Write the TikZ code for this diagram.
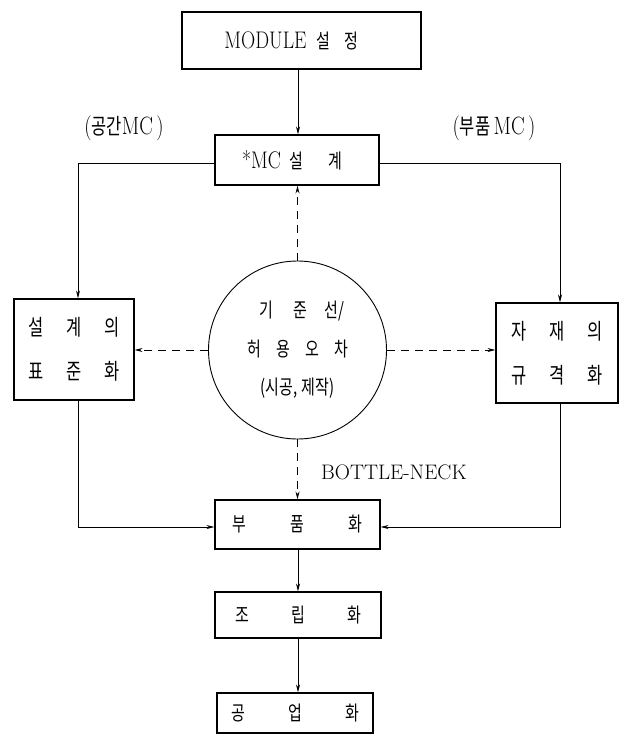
\documentclass[tikz,border=0pt]{standalone}
\usepackage{fontspec}
\usepackage{graphicx}
\setmainfont{Latin Modern Roman}
\newfontfamily\kr{Noto Sans CJK KR}
\usetikzlibrary{arrows.meta}
\newcommand{\LT}[1]{\scalebox{0.82}[1]{#1}}
\newcommand{\KT}[1]{\scalebox{0.75}[1]{\kr #1}}
\newcommand{\cell}[2]{\makebox[#1]{\KT{#2}}}
\tikzset{
  box/.style={draw, line width=1.1pt, inner sep=0pt, anchor=center},
  conn/.style={line width=0.8pt, -{Stealth[length=8pt,width=4pt]}},
  dconn/.style={line width=0.8pt, dash pattern=on 8pt off 6pt, -{Stealth[length=8pt,width=4pt]}},
  txt/.style={inner sep=0pt, anchor=center},
}
\begin{document}
\begin{tikzpicture}[x=1pt,y=-1pt]
\useasboundingbox (0,0) rectangle (621,736);
\node[box, minimum width=239pt, minimum height=57pt, font=\fontsize{20}{24}\selectfont] (mod) at (301.5,40.5)
  {\hspace{-16pt}\LT{\fontsize{24}{28}\selectfont MODULE}\hspace{6pt}\cell{22pt}{설}\hspace{6pt}\cell{22pt}{정}};
\node[box, minimum width=164pt, minimum height=50pt, font=\fontsize{20}{24}\selectfont] (mc) at (297,160)
  {\hspace{-6pt}\LT{\fontsize{24}{28}\selectfont *MC}\hspace{4pt}\cell{22pt}{설}\hspace{17pt}\cell{22pt}{계}};
\node[box, minimum width=120pt, minimum height=101pt, font=\fontsize{22}{44}\selectfont, align=center] (lb) at (74,349.5)
  {\cell{38pt}{설}\cell{38pt}{계}\cell{38pt}{의}\\ \cell{38pt}{표}\cell{38pt}{준}\cell{38pt}{화}};
\node[box, minimum width=122pt, minimum height=100pt, font=\fontsize{22}{44}\selectfont, align=center] (rb) at (557,353)
  {\cell{38pt}{자}\cell{38pt}{재}\cell{38pt}{의}\\ \cell{38pt}{규}\cell{38pt}{격}\cell{38pt}{화}};
\node[draw, line width=0.9pt, circle, minimum size=178pt, inner sep=0pt, align=center, font=\fontsize{20}{40}\selectfont] (cir) at (297.5,350)
  {\hspace{6pt}\cell{34pt}{기}\cell{34pt}{준}\cell{34pt}{선/}\\[-1pt]
   \cell{29pt}{허}\cell{29pt}{용}\cell{29pt}{오}\cell{29pt}{차}\\[-2pt]
   \KT{(시공,\hspace{6pt}제작)}};
\node[box, minimum width=165pt, minimum height=49pt, font=\fontsize{20}{24}\selectfont] (bu) at (297.5,524.5)
  {\cell{18pt}{부}\hspace{40pt}\cell{18pt}{품}\hspace{40pt}\cell{18pt}{화}};
\node[box, minimum width=166pt, minimum height=46pt, font=\fontsize{20}{24}\selectfont] (jo) at (298,615)
  {\cell{18pt}{조}\hspace{38pt}\cell{18pt}{립}\hspace{38pt}\cell{18pt}{화}};
\node[box, minimum width=156pt, minimum height=40pt, font=\fontsize{20}{24}\selectfont] (go) at (295,713)
  {\cell{18pt}{공}\hspace{39pt}\cell{18pt}{업}\hspace{39pt}\cell{18pt}{화}};
\node[txt, font=\fontsize{22}{24}\selectfont] (lab1) at (124,128) {\LT{\fontsize{25}{28}\selectfont (}\KT{공간}\LT{\fontsize{25}{28}\selectfont MC\,)}};
\node[txt, font=\fontsize{22}{24}\selectfont] (lab2) at (494,128) {\LT{\fontsize{25}{28}\selectfont (}\KT{부품}\LT{\fontsize{25}{28}\selectfont\,MC\,)}};
\node[txt, anchor=west] (bn) at (321,472) {\fontsize{21}{24}\selectfont BOTTLE-NECK};
% connectors
\draw[conn] (mod.south -| 298,0) -- (mc.north -| 298,0);
\coordinate (lc) at (78,163);
\coordinate (rc) at (560,163);
\draw[conn] (mc.west |- lc) -- (lc) -- (lb.north -| lc);
\draw[conn] (mc.east |- rc) -- (rc) -- (rb.north -| rc);
\coordinate (lbot) at (78,527);
\coordinate (rbot) at (560,527);
\draw[conn] (lb.south -| lbot) -- (lbot) -- (bu.west |- lbot);
\draw[conn] (rb.south -| rbot) -- (rbot) -- (bu.east |- rbot);
\draw[dconn] (cir.north) -- (mc.south -| cir.north);
\draw[dconn] (cir.west) -- (lb.east |- cir.west);
\draw[dconn] (cir.east) -- (rb.west |- cir.east);
\draw[dconn] (cir.south) -- (bu.north -| cir.south);
\draw[conn] (bu.south -| 298,0) -- (jo.north -| 298,0);
\draw[conn] (jo.south -| 298,0) -- (go.north -| 298,0);
\end{tikzpicture}
\end{document}
